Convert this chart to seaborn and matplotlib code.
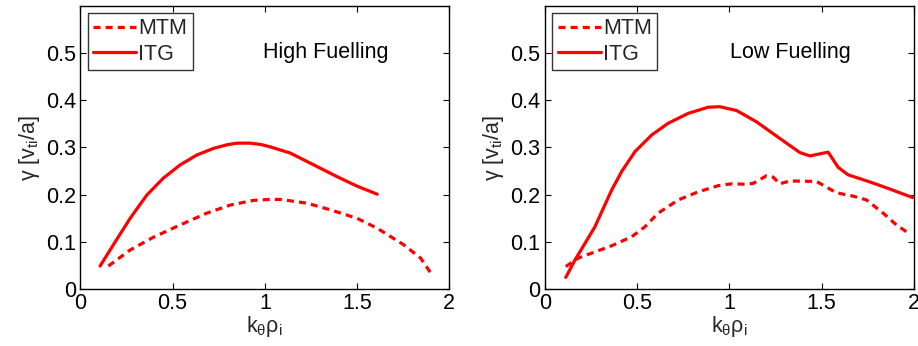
import matplotlib
matplotlib.use("Agg")
import matplotlib.pyplot as plt
import seaborn as sns

sns.set_theme(style="white")
plt.rcParams['font.family'] = ['Liberation Sans', 'DejaVu Sans']
plt.rcParams['mathtext.fontset'] = 'custom'
plt.rcParams['mathtext.rm'] = 'Liberation Sans'
plt.rcParams['mathtext.it'] = 'Liberation Sans'
plt.rcParams['mathtext.default'] = 'regular'

# High fuelling
hi_itg_k = [0.107, 0.179, 0.27, 0.36, 0.45, 0.541, 0.632, 0.722, 0.80, 0.849, 0.92, 0.98, 1.03, 1.138, 1.265, 1.392, 1.5, 1.609]
hi_itg_g = [0.049, 0.094, 0.150, 0.199, 0.235, 0.263, 0.284, 0.298, 0.306, 0.309, 0.309, 0.306, 0.301, 0.288, 0.263, 0.238, 0.218, 0.201]
hi_mtm_k = [0.152, 0.27, 0.396, 0.541, 0.686, 0.812, 0.939, 1.03, 1.084, 1.229, 1.355, 1.5, 1.609, 1.753, 1.844, 1.898]
hi_mtm_g = [0.049, 0.083, 0.110, 0.136, 0.161, 0.178, 0.188, 0.190, 0.190, 0.182, 0.168, 0.150, 0.129, 0.094, 0.066, 0.035]

# Low fuelling
lo_itg_k = [0.114, 0.164, 0.218, 0.272, 0.309, 0.363, 0.417, 0.489, 0.579, 0.669, 0.778, 0.886, 0.949, 1.04, 1.148, 1.274, 1.383, 1.437, 1.536, 1.59, 1.644, 1.762, 1.87, 1.993]
lo_itg_g = [0.025, 0.062, 0.097, 0.132, 0.164, 0.210, 0.249, 0.291, 0.326, 0.351, 0.372, 0.385, 0.386, 0.378, 0.354, 0.319, 0.289, 0.282, 0.290, 0.258, 0.242, 0.227, 0.212, 0.194]
lo_mtm_k = [0.114, 0.182, 0.272, 0.363, 0.471, 0.543, 0.615, 0.724, 0.832, 0.94, 1.013, 1.094, 1.13, 1.202, 1.238, 1.274, 1.328, 1.473, 1.527, 1.581, 1.671, 1.743, 1.834, 1.906, 1.978]
lo_mtm_g = [0.048, 0.066, 0.079, 0.092, 0.111, 0.132, 0.161, 0.189, 0.206, 0.219, 0.223, 0.222, 0.224, 0.240, 0.237, 0.223, 0.229, 0.228, 0.216, 0.204, 0.197, 0.189, 0.161, 0.136, 0.117]

panels = [
    ("High Fuelling", hi_mtm_k, hi_mtm_g, hi_itg_k, hi_itg_g),
    ("Low Fuelling", lo_mtm_k, lo_mtm_g, lo_itg_k, lo_itg_g),
]

x_ticks = [0, 0.5, 1, 1.5, 2]
x_ticklabels = ["0", "0.5", "1", "1.5", "2"]
y_ticks = [0, 0.1, 0.2, 0.3, 0.4, 0.5]
y_ticklabels = ["0", "0.1", "0.2", "0.3", "0.4", "0.5"]

fig = plt.figure(figsize=(9.18, 3.46), dpi=100)
lefts = [0.0875, 0.5934]
fs = 15.5
lw = 2.3
for left, (title, mk, mg, ik, ig) in zip(lefts, panels):
    ax = fig.add_axes([left, 0.164, 0.402, 0.82])
    sns.lineplot(x=mk, y=mg, ax=ax, color='red', lw=lw, label='MTM', sort=False)
    sns.lineplot(x=ik, y=ig, ax=ax, color='red', lw=lw, label='ITG', sort=False)
    ax.lines[0].set_dashes([2.2, 1.6])
    ax.set_xlim(0, 2)
    ax.set_ylim(0, 0.6)
    ax.set_xticks(x_ticks)
    ax.set_xticklabels(x_ticklabels)
    ax.set_yticks(y_ticks)
    ax.set_yticklabels(y_ticklabels)
    ax.tick_params(direction='in', length=4, width=0.8, labelsize=fs, top=True, right=True,
                   bottom=True, left=True, colors='black', pad=3)
    for s in ax.spines.values():
        s.set_color('black')
        s.set_linewidth(1.0)
    ax.set_xlabel(r'k$_\theta\rho_i$', fontsize=fs, labelpad=0)
    ax.set_ylabel(r'$\gamma$ [v$_{ti}$/a]', fontsize=fs, labelpad=3)
    ax.text(1.33, 0.5, title, fontsize=fs, ha='center', va='center', color='black')
    leg = ax.legend(loc='upper left', fontsize=fs, frameon=True, fancybox=False,
                    borderaxespad=0.35, handlelength=2.0, handletextpad=0.1,
                    borderpad=0.25, labelspacing=0.2)
    leg.get_frame().set_edgecolor('black')
    leg.get_frame().set_linewidth(1.0)

fig.savefig('out.png', dpi=100)
